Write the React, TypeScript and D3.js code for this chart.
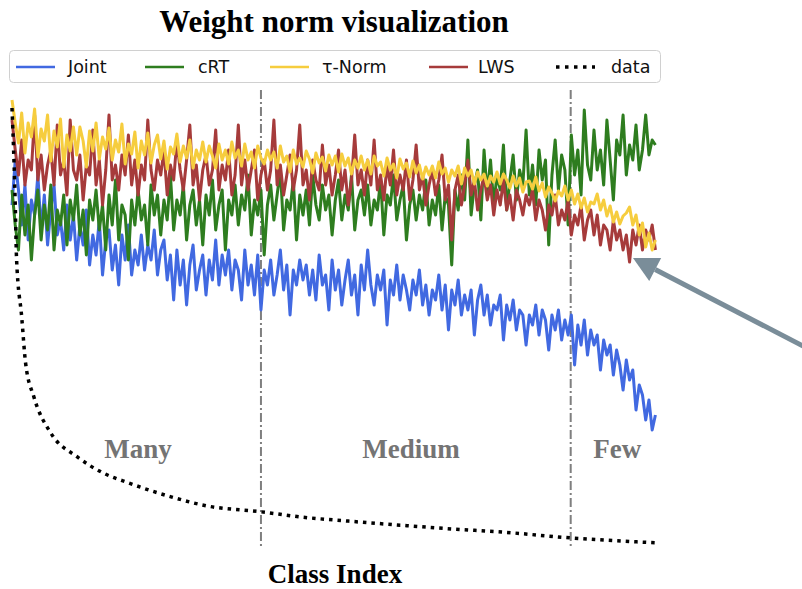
import React from "react";
import * as d3 from "d3";

// class index of every sampled point (step 5 over 1000 classes)
const classIdx = d3.range(0, 1000, 5);

// weight norms, one value per sampled class
const joint = [
  3.40, 3.85, 3.55, 3.20, 3.60, 3.05, 3.45, 3.30, 3.70, 3.15,
  3.50, 3.00, 3.35, 3.60, 3.10, 3.25, 2.95, 3.40, 3.05, 3.30,
  2.85, 3.20, 3.00, 3.35, 2.80, 3.10, 2.90, 3.25, 2.70, 3.05,
  3.15, 2.75, 3.00, 2.60, 3.10, 2.85, 3.20, 2.70, 2.95, 2.80,
  3.10, 2.75, 3.00, 2.85, 3.15, 2.70, 2.95, 3.05, 2.65, 2.90,
  2.45, 2.95, 2.60, 2.85, 2.40, 2.80, 3.00, 2.55, 2.75, 2.90,
  2.50, 2.85, 2.65, 3.05, 2.60, 2.90, 2.70, 2.95, 2.55, 2.85,
  2.75, 2.45, 2.95, 2.60, 2.80, 2.50, 2.90, 2.35, 2.75, 2.60,
  2.85, 2.50, 2.70, 2.95, 2.55, 2.80, 2.30, 2.75, 2.60, 2.85,
  2.65, 2.80, 2.50, 2.75, 2.45, 2.90, 2.60, 2.70, 2.35, 2.85,
  2.55, 2.75, 2.40, 2.65, 2.85, 2.50, 2.70, 2.30, 2.80, 2.55,
  2.95, 2.60, 2.40, 2.70, 2.55, 2.75, 2.20, 2.65, 2.50, 2.80,
  2.45, 2.70, 2.55, 2.35, 2.65, 2.50, 2.75, 2.40, 2.60, 2.30,
  2.55, 2.45, 2.70, 2.35, 2.60, 2.15, 2.55, 2.40, 2.65, 2.30,
  2.50, 2.35, 2.55, 2.10, 2.45, 2.60, 2.30, 2.50, 2.20, 2.40,
  2.35, 2.50, 2.05, 2.40, 2.25, 2.45, 2.15, 2.35, 2.30, 2.00,
  2.30, 2.20, 2.40, 2.10, 2.35, 2.25, 1.95, 2.30, 2.15, 2.35,
  2.05, 2.25, 2.10, 2.30, 1.80, 2.20, 2.00, 2.25, 1.90, 2.15,
  2.00, 2.10, 1.75, 2.05, 1.90, 2.00, 1.70, 1.95, 1.80, 1.55,
  1.85, 1.65, 1.75, 1.35, 1.60, 1.50, 1.25, 1.45, 1.15, 1.30,
];

const crt = [
  3.55, 3.20, 2.95, 3.50, 3.10, 3.40, 2.85, 3.30, 3.55, 3.05,
  3.40, 3.15, 3.60, 2.95, 3.35, 3.20, 3.50, 3.00, 3.45, 3.25,
  3.60, 3.10, 3.35, 2.90, 3.45, 3.25, 3.55, 3.15, 3.40, 2.95,
  3.50, 3.20, 3.65, 3.05, 3.40, 3.30, 2.85, 3.45, 3.20, 3.55,
  3.25, 3.40, 3.00, 3.60, 3.30, 3.50, 3.10, 3.45, 3.25, 3.70,
  3.15, 3.45, 3.30, 3.60, 3.05, 3.40, 3.55, 3.20, 3.45, 3.00,
  3.50, 3.30, 3.65, 3.15, 3.40, 3.55, 2.95, 3.45, 3.30, 3.60,
  3.20, 3.50, 3.35, 3.70, 3.10, 3.45, 3.30, 3.55, 2.90, 3.40,
  3.60, 3.25, 3.50, 3.75, 3.15, 3.45, 3.35, 3.65, 3.05, 3.50,
  3.30, 3.55, 3.20, 3.70, 3.40, 3.25, 3.60, 3.35, 3.50, 3.10,
  3.45, 3.65, 3.25, 3.50, 3.35, 3.70, 3.15, 3.45, 3.55, 3.30,
  3.60, 3.20, 3.45, 3.35, 3.65, 3.10, 3.50, 3.40, 3.70, 3.25,
  3.45, 3.60, 3.05, 3.40, 3.55, 3.25, 3.50, 3.35, 3.65, 3.20,
  3.45, 3.30, 3.60, 3.15, 3.50, 3.40, 2.80, 3.55, 3.35, 3.70,
  3.45, 4.05, 3.30, 3.60, 3.75, 3.25, 3.95, 3.50, 3.85, 3.40,
  3.70, 3.55, 4.00, 3.35, 3.65, 3.90, 3.45, 3.75, 3.60, 4.15,
  3.50, 3.80, 3.40, 3.95, 3.65, 3.85, 3.00, 3.70, 4.05, 3.55,
  3.90, 3.75, 3.20, 4.10, 3.70, 3.95, 3.50, 4.35, 3.80, 3.65,
  4.15, 3.75, 3.95, 3.60, 4.25, 3.85, 3.45, 4.05, 3.90, 4.30,
  3.70, 4.00, 3.85, 4.20, 3.75, 3.95, 4.30, 3.90, 4.05, 4.00,
];

const tauNorm = [
  4.45, 4.22, 4.02, 4.32, 3.92, 4.22, 4.08, 4.36, 3.88, 4.16,
  4.04, 4.30, 3.84, 4.14, 3.98, 4.26, 3.78, 4.10, 3.94, 4.18,
  3.90, 4.18, 4.04, 3.78, 4.14, 3.94, 4.22, 3.86, 4.08, 3.96,
  4.17, 3.85, 4.05, 3.93, 4.21, 3.81, 4.01, 3.91, 4.13, 3.77,
  4.04, 3.90, 4.12, 3.82, 4.00, 4.10, 3.86, 4.04, 3.76, 3.98,
  3.91, 4.11, 3.83, 3.99, 3.87, 4.05, 3.77, 3.95, 3.85, 4.03,
  3.83, 3.99, 3.89, 3.77, 4.01, 3.85, 3.95, 3.81, 4.03, 3.87,
  3.95, 3.79, 4.01, 3.85, 3.93, 3.77, 3.99, 3.87, 3.81, 3.95,
  3.85, 3.93, 3.77, 3.99, 3.83, 3.89, 3.73, 3.95, 3.81, 3.87,
  3.78, 3.94, 3.86, 3.72, 3.92, 3.82, 3.88, 3.74, 3.90, 3.80,
  3.89, 3.73, 3.91, 3.79, 3.87, 3.71, 3.85, 3.77, 3.89, 3.75,
  3.85, 3.71, 3.89, 3.79, 3.83, 3.69, 3.87, 3.75, 3.81, 3.67,
  3.86, 3.76, 3.82, 3.68, 3.84, 3.72, 3.80, 3.66, 3.78, 3.70,
  3.79, 3.67, 3.83, 3.71, 3.77, 3.63, 3.75, 3.69, 3.79, 3.61,
  3.77, 3.69, 3.75, 3.61, 3.73, 3.65, 3.71, 3.59, 3.69, 3.63,
  3.73, 3.61, 3.71, 3.65, 3.57, 3.69, 3.59, 3.67, 3.53, 3.63,
  3.64, 3.56, 3.68, 3.54, 3.62, 3.48, 3.58, 3.52, 3.44, 3.54,
  3.49, 3.59, 3.45, 3.55, 3.41, 3.51, 3.37, 3.47, 3.33, 3.43,
  3.41, 3.51, 3.35, 3.45, 3.29, 3.39, 3.23, 3.33, 3.21, 3.29,
  3.32, 3.38, 3.20, 3.30, 3.10, 3.22, 2.98, 3.12, 2.95, 3.05,
];

const lws = [
  4.25, 3.95, 3.70, 4.05, 3.60, 3.85, 3.75, 4.30, 3.65, 3.90,
  3.55, 3.80, 3.95, 3.60, 4.20, 3.70, 3.85, 3.50, 4.25, 3.75,
  3.65, 3.90, 3.45, 3.80, 3.70, 4.15, 3.60, 3.85, 3.40, 3.75,
  4.30, 3.65, 3.80, 3.55, 3.90, 3.70, 4.10, 3.60, 3.85, 3.50,
  3.80, 3.65, 4.25, 3.75, 3.55, 3.85, 3.70, 3.95, 3.50, 3.80,
  3.65, 4.05, 3.75, 3.55, 3.85, 4.20, 3.60, 3.80, 3.45, 3.75,
  3.90, 3.60, 3.75, 4.15, 3.55, 3.80, 3.65, 3.95, 3.50, 3.70,
  4.20, 3.60, 3.85, 3.55, 3.75, 3.95, 3.45, 3.70, 3.85, 3.55,
  3.75, 4.25, 3.60, 3.80, 3.50, 3.70, 3.90, 3.55, 3.75, 4.20,
  3.60, 3.75, 3.45, 3.85, 3.65, 3.55, 4.00, 3.60, 3.80, 3.50,
  3.70, 3.95, 3.55, 3.75, 3.40, 3.65, 4.10, 3.60, 3.75, 3.50,
  3.85, 3.60, 4.05, 3.55, 3.70, 3.45, 3.80, 3.60, 3.95, 3.50,
  3.70, 3.55, 3.85, 3.45, 3.65, 4.00, 3.55, 3.70, 3.40, 3.60,
  3.75, 3.50, 3.65, 3.90, 3.45, 3.60, 3.05, 3.55, 3.70, 3.40,
  3.60, 3.85, 3.50, 3.65, 3.35, 3.55, 3.70, 3.45, 3.60, 3.30,
  3.55, 3.40, 3.65, 3.35, 3.50, 3.25, 3.55, 3.45, 3.30, 3.50,
  3.40, 3.55, 3.25, 3.45, 3.35, 3.15, 3.40, 3.30, 3.50, 3.20,
  3.35, 3.25, 3.45, 3.10, 3.30, 3.20, 3.40, 3.05, 3.25, 3.35,
  3.10, 3.30, 3.00, 3.20, 3.15, 2.95, 3.25, 3.05, 3.15, 2.95,
  3.10, 2.83, 3.15, 3.00, 3.20, 2.95, 3.15, 3.05, 3.20, 2.95,
];

// training images per class (long-tailed distribution)
const dataIdx = [0, 5, 7, 15, 21, 34, 60, 101, 141, 180, 246, 300, 386, 447, 520, 601, 680, 757, 863, 930, 999];
const dataCount = [1280, 1000, 840, 668, 533, 433, 328, 258, 211, 182, 141, 115, 97, 82, 70, 58, 47, 38, 21, 13, 6];

const splits = [385, 864];
const groups = [
  { name: "Many", center: 195 },
  { name: "Medium", center: 617 },
  { name: "Few", center: 936 },
];

const series = [
  { name: "Joint", values: joint, color: "#4169e1" },
  { name: "cRT", values: crt, color: "#2e7d1f" },
  { name: "LWS", values: lws, color: "#a63b3b" },
  { name: "τ-Norm", values: tauNorm, color: "#f6cd3e" },
];

const legendItems = [
  { label: "Joint", color: "#4169e1", x: 16, tx: 68 },
  { label: "cRT", color: "#2e7d1f", x: 145, tx: 198 },
  { label: "τ-Norm", color: "#f6cd3e", x: 270, tx: 322 },
  { label: "LWS", color: "#a63b3b", x: 429, tx: 478 },
  { label: "data", color: "#000", x: 556, tx: 611, dotted: true },
];

const W = 802;
const H = 589;

export default function App() {
  const x = d3.scaleLinear().domain([0, 999]).range([12, 658]);
  const y = d3.scaleLinear().domain([0, 4.55]).range([545, 90]);
  const yCount = d3.scaleLinear().domain([0, 1280]).range([545, 108]);

  const line = d3
    .line<number>()
    .x((_, i) => x(classIdx[i]))
    .y((d) => y(d));

  const dataLine = d3
    .line<number>()
    .x((_, i) => x(dataIdx[i]))
    .y((d) => yCount(d))
    .curve(d3.curveMonotoneX);

  // arrow pointing at the LWS tail
  const tip: [number, number] = [633, 258];
  const tail: [number, number] = [830, 360];
  const ang = Math.atan2(tail[1] - tip[1], tail[0] - tip[0]);
  const hl = 25, hw = 13;
  const bx = tip[0] + hl * Math.cos(ang);
  const by = tip[1] + hl * Math.sin(ang);
  const px = -Math.sin(ang), py = Math.cos(ang);
  const head = `${tip[0]},${tip[1]} ${bx + px * hw},${by + py * hw} ${bx - px * hw},${by - py * hw}`;

  const serif = "'Liberation Serif', 'Times New Roman', serif";
  const sans = "'DejaVu Sans', sans-serif";

  return (
    <svg width={W} height={H} style={{ position: "absolute", left: 0, top: 0, background: "#fff" }}>
      <text x={334} y={32} textAnchor="middle" fontFamily={serif} fontWeight="bold" fontSize={31}>
        Weight norm visualization
      </text>

      {/* legend */}
      <rect x={9.5} y={50.5} width={651} height={32} rx={4} fill="#fff" stroke="#d0d0d0" strokeWidth={1} />
      {legendItems.map((d) => (
        <g key={d.label}>
          <line
            x1={d.x}
            x2={d.x + 39}
            y1={67}
            y2={67}
            stroke={d.color}
            strokeWidth={d.dotted ? 3.5 : 2.5}
            strokeDasharray={d.dotted ? "3.5,5.5" : undefined}
          />
          <text x={d.tx} y={73} fontFamily={sans} fontSize={17.5} fill="#111">
            {d.label}
          </text>
        </g>
      ))}

      {/* split lines */}
      {splits.map((s) => (
        <line
          key={s}
          x1={x(s)}
          x2={x(s)}
          y1={90}
          y2={546}
          stroke="#7f7f7f"
          strokeWidth={2}
          strokeDasharray="9,3,2,3"
        />
      ))}

      {series.map((s) => (
        <path
          key={s.name}
          d={line(s.values) || ""}
          fill="none"
          stroke={s.color}
          strokeWidth={3}
          strokeLinejoin="round"
        />
      ))}

      <path
        d={dataLine(dataCount) || ""}
        fill="none"
        stroke="#000"
        strokeWidth={3.5}
        strokeDasharray="3.5,5"
      />

      {groups.map((g) => (
        <text
          key={g.name}
          x={x(g.center)}
          y={458}
          textAnchor="middle"
          fontFamily={serif}
          fontWeight="bold"
          fontSize={27}
          fill="#747474"
        >
          {g.name}
        </text>
      ))}

      <line x1={tail[0]} y1={tail[1]} x2={bx} y2={by} stroke="#7a8d99" strokeWidth={5} />
      <polygon points={head} fill="#7a8d99" />

      <text x={335} y={583} textAnchor="middle" fontFamily={serif} fontWeight="bold" fontSize={27}>
        Class Index
      </text>
    </svg>
  );
}
